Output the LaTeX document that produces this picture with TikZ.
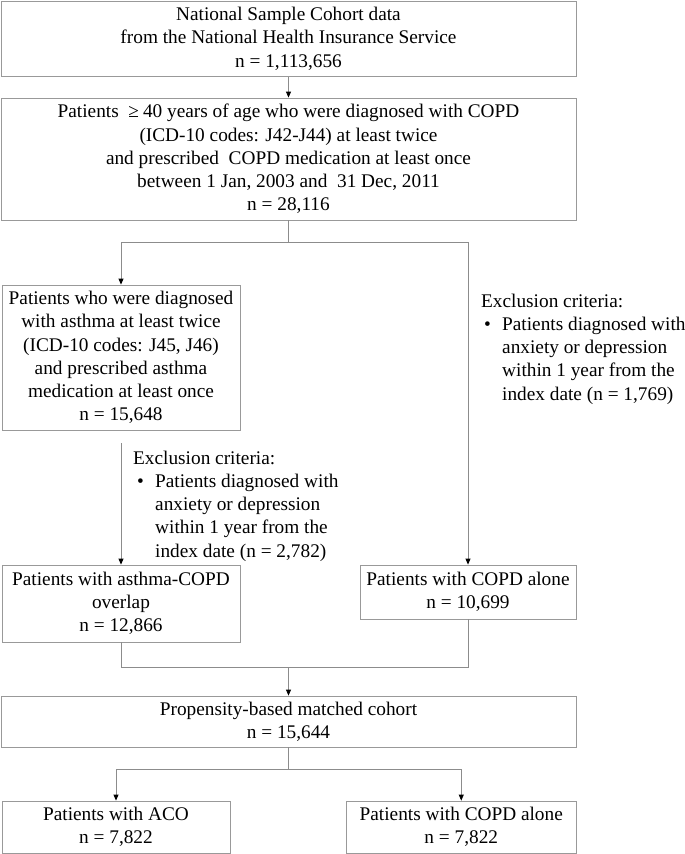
\documentclass[tikz,border=0pt]{standalone}
\usepackage{fontspec}
\setmainfont{Liberation Serif}
\usetikzlibrary{arrows.meta}
\begin{document}
\begin{tikzpicture}[x=1pt,y=-1pt,
  font=\fontsize{19.3}{23.2}\selectfont,
  box/.style={draw=black!40, line width=0.8pt, inner sep=0pt, align=center},
  conn/.style={draw=black!45, line width=0.8pt},
  arr/.style={conn, -{Triangle[length=6pt,width=5pt,color=black]}},
  excl/.style={anchor=north west, inner sep=0pt}]
\useasboundingbox (0,0) rectangle (685,854);

\node[box, minimum width=575pt, minimum height=75pt] (b1) at (288.5,38.75)
  {National Sample Cohort data\\ from the National Health Insurance Service\\ n = 1,113,656};
\node[box, minimum width=575pt, minimum height=122pt] (b2) at (288.5,159)
  {Patients\ \ ≥\kern4pt 40 years of age who were diagnosed with COPD\\
   (ICD-10 codes: J42-J44) at least twice\\
   and prescribed\ \ COPD medication at least once\\
   between 1 Jan, 2003 and\ \ 31 Dec, 2011\\
   n = 28,116};
\node[box, minimum width=238pt, minimum height=145pt] (b3) at (121,357.5)
  {Patients who were diagnosed\\ with asthma at least twice\\ (ICD-10 codes: J45, J46)\\ and prescribed asthma\\ medication at least once\\ n = 15,648};
\node[box, minimum width=216pt, minimum height=54pt] (b4) at (468,592)
  {Patients with COPD alone\\ n = 10,699};
\node[box, minimum width=238pt, minimum height=77pt] (b5) at (121,603.5)
  {Patients with asthma-COPD\\ overlap\\ n = 12,866};
\node[box, minimum width=575pt, minimum height=51pt] (b6) at (288.5,721.5)
  {Propensity-based matched cohort\\ n = 15,644};
\node[box, minimum width=228pt, minimum height=52pt] (b7) at (116,827)
  {Patients with ACO\\ n = 7,822};
\node[box, minimum width=229.5pt, minimum height=52pt] (b8) at (461.25,827)
  {Patients with COPD alone\\ n = 7,822};

\node[excl] (exR) at (481,290.8) {\begin{tabular}{@{}l@{}}Exclusion criteria:\\
  \hspace{3pt}\makebox[18pt][l]{\textbullet}Patients diagnosed with\\
  \hspace{21pt}anxiety or depression\\
  \hspace{21pt}within 1 year from the\\
  \hspace{21pt}index date (n = 1,769)\end{tabular}};
\node[excl] (exL) at (133,447.8) {\begin{tabular}{@{}l@{}}Exclusion criteria:\\
  \hspace{4pt}\makebox[18pt][l]{\textbullet}Patients diagnosed with\\
  \hspace{22pt}anxiety or depression\\
  \hspace{22pt}within 1 year from the\\
  \hspace{22pt}index date (n = 2,782)\end{tabular}};

\coordinate (j1) at (288.5,242);
\coordinate (s3) at (121,443);
\coordinate (j2) at (288.5,667);
\coordinate (j3) at (288.5,769);

\draw[arr] (b1.south) -- (b2.north);
\draw[conn] (b2.south) -- (j1);
\draw[arr] (j1) -| (b3.north);
\draw[arr] (j1) -| (b4.north);
\draw[arr] (s3) -- (b5.north);
\draw[conn] (b5.south) |- (j2);
\draw[conn] (b4.south) |- (j2);
\draw[arr] (j2) -- (b6.north);
\draw[conn] (b6.south) -- (j3);
\draw[arr] (j3) -| (b7.north);
\draw[arr] (j3) -| (b8.north);
\end{tikzpicture}
\end{document}
